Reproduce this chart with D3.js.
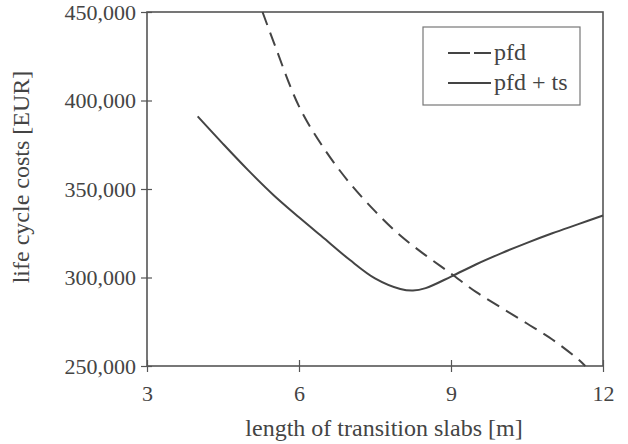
<html>
<head>
    <script src="https://cdn.jsdelivr.net/npm/d3@7"></script>
    <style>
        body { margin: 0; background: #fff; }
        text { font-family: "Liberation Serif", "DejaVu Serif", serif; fill: #444; }
    </style>
</head>
<body>
    <svg id="chart" width="628" height="444"></svg>
    <script>
        // pfd (dashed)
        var pfdX = [5.28, 5.5, 6, 6.5, 7, 7.5, 8, 8.5, 9, 9.5, 10, 10.5, 11, 11.5, 11.65];
        var pfdY = [450000, 433000, 396700, 372600, 353400, 337500, 323700, 312500, 302200, 291700, 282800, 274000, 265000, 254000, 250000];
        // pfd + ts (solid)
        var tsX = [4, 4.5, 5, 5.5, 6, 6.5, 7, 7.5, 8, 8.25, 8.5, 9, 9.5, 10, 10.5, 11, 11.5, 12];
        var tsY = [391000, 375500, 360500, 346500, 334000, 322000, 310000, 299500, 293500, 292600, 294000, 300500, 307500, 313800, 319600, 325000, 330000, 335000];

        var xTicks = [3, 6, 9, 12];
        var yTicks = [250000, 300000, 350000, 400000, 450000];
        var legendNames = ["pfd", "pfd + ts"];

        var svg = d3.select("#chart");
        var pL = 147, pR = 603, pT = 12, pB = 366;
        var ink = "#444";

        var x = d3.scaleLinear().domain([3, 12]).range([pL, pR]);
        var y = d3.scaleLinear().domain([250000, 450000]).range([pB, pT]);
        var fmt = d3.format(",");

        // frame
        svg.append("rect")
            .attr("x", pL).attr("y", pT)
            .attr("width", pR - pL).attr("height", pB - pT)
            .attr("fill", "none").attr("stroke", "#555").attr("stroke-width", 1.6);

        // y axis
        var ya = svg.append("g").attr("transform", "translate(" + pL + ",0)")
            .call(d3.axisLeft(y).tickValues(yTicks).tickFormat(fmt).tickSize(6).tickPadding(5));
        ya.select(".domain").remove();
        ya.selectAll("line").attr("x2", -6).attr("x1", 5).attr("stroke", "#555").attr("stroke-width", 1.2);
        ya.selectAll("text").attr("font-size", 22).attr("font-family", "Liberation Serif").attr("fill", "#444");

        // x axis
        var xa = svg.append("g").attr("transform", "translate(0," + pB + ")")
            .call(d3.axisBottom(x).tickValues(xTicks).tickSize(6).tickPadding(13));
        xa.select(".domain").remove();
        xa.selectAll("line").attr("y1", -6).attr("y2", 6).attr("stroke", "#555").attr("stroke-width", 1.2);
        xa.selectAll("text").attr("font-size", 22).attr("font-family", "Liberation Serif").attr("fill", "#444");

        // titles
        svg.append("text")
            .attr("x", 384).attr("y", 436)
            .attr("text-anchor", "middle").attr("font-size", 24)
            .text("length of transition slabs [m]");
        svg.append("text")
            .attr("transform", "translate(29,177) rotate(-90)")
            .attr("text-anchor", "middle").attr("font-size", 24)
            .text("life cycle costs [EUR]");

        var line = d3.line()
            .x(function (d) { return x(d[0]); })
            .y(function (d) { return y(d[1]); })
            .curve(d3.curveCatmullRom.alpha(0.5));

        svg.append("path")
            .datum(d3.zip(pfdX, pfdY))
            .attr("d", line)
            .attr("fill", "none").attr("stroke", ink).attr("stroke-width", 2)
            .attr("stroke-dasharray", "14,8");

        svg.append("path")
            .datum(d3.zip(tsX, tsY))
            .attr("d", line)
            .attr("fill", "none").attr("stroke", ink).attr("stroke-width", 2);

        // legend
        var lg = svg.append("g");
        lg.append("rect")
            .attr("x", 423).attr("y", 27).attr("width", 157).attr("height", 78)
            .attr("fill", "#fff").attr("stroke", "#777").attr("stroke-width", 1.2);
        legendNames.forEach(function (name, i) {
            var cy = 53 + i * 30;
            lg.append("line")
                .attr("x1", 448).attr("x2", 491).attr("y1", cy).attr("y2", cy)
                .attr("stroke", ink).attr("stroke-width", 2)
                .attr("stroke-dasharray", i == 0 ? "22,4,17" : null);
            lg.append("text")
                .attr("x", 494).attr("y", cy + 7).attr("font-size", 24)
                .text(name);
        });
    </script>
</body>
</html>
